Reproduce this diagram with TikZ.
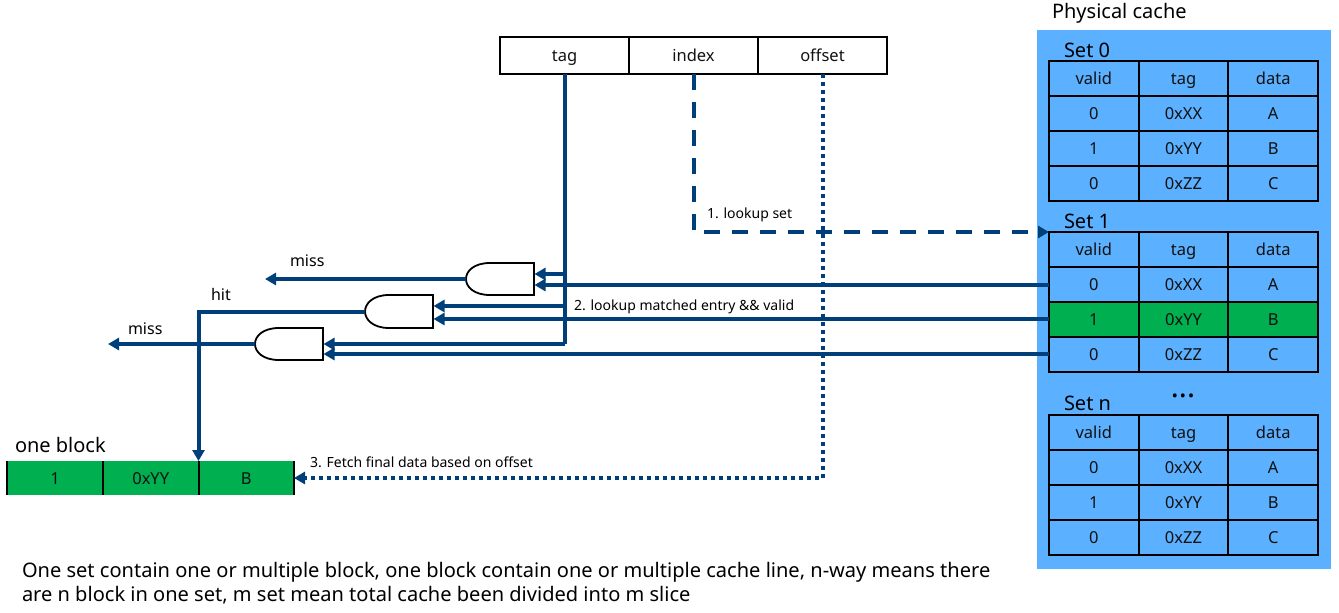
\documentclass[tikz,border=0pt]{standalone}
\usepackage{fontspec}
\setmainfont{Noto Sans}
\usetikzlibrary{arrows.meta}
\definecolor{wire}{HTML}{003F7A}
\definecolor{cachebg}{HTML}{5BB0FF}
\definecolor{hitgreen}{HTML}{00B050}
\definecolor{ink}{HTML}{111111}
\newcommand{\fs}[1]{\fontsize{#1}{#1}\selectfont}
\tikzset{
  x=1pt,y=-1pt,
  every node/.style={outer sep=0pt},
  cell/.style={draw=black,line width=1.8pt,minimum width=89.5pt,minimum height=35pt,inner sep=0pt,text=ink,font=\fs{16.5},text height=12pt,text depth=0pt,anchor=north west},
  addr/.style={draw=black,line width=1.6pt,minimum height=37pt,minimum width=129pt,inner sep=0pt,text=ink,font=\fs{16.5},text height=12pt,text depth=0pt,anchor=north west},
  blockcell/.style={fill=hitgreen,minimum height=34pt,inner sep=0pt,text=ink,font=\fs{16.5},text height=12pt,text depth=0pt,anchor=north west},
  caption/.style={text=black,font=\fs{20},inner sep=0pt,anchor=base west},
  steplabel/.style={text=black,font=\fs{14},inner sep=0pt,anchor=base west},
  wirelabel/.style={text=black,font=\fs{16},inner sep=0pt,anchor=base west},
  wireline/.style={draw=wire,line width=4pt},
  wirearrow/.style={wireline,-{Triangle[length=11pt,width=12pt]}},
  lookupdash/.style={dash pattern=on 16pt off 12pt},
  fetchdot/.style={dash pattern=on 4pt off 4pt},
  gateshape/.style={draw=black,line width=1.8pt,fill=white},
}
% \cachetable{prefix}{top y}
\newcommand{\cachetable}[2]{%
  \node[cell] (#1h1) at (1049,#2) {valid};
  \node[cell] (#1h2) at (1138.75,#2) {tag};
  \node[cell] (#1h3) at (1228.5,#2) {data};
  \node[cell] (#1a1) at (1049,#2+35) {0};
  \node[cell] (#1a2) at (1138.75,#2+35) {0xXX};
  \node[cell] (#1a3) at (1228.5,#2+35) {A};
  \node[cell] (#1b1) at (1049,#2+70) {1};
  \node[cell] (#1b2) at (1138.75,#2+70) {0xYY};
  \node[cell] (#1b3) at (1228.5,#2+70) {B};
  \node[cell] (#1c1) at (1049,#2+105) {0};
  \node[cell] (#1c2) at (1138.75,#2+105) {0xZZ};
  \node[cell] (#1c3) at (1228.5,#2+105) {C};
}
% \andgate{name}{left x}{top y}{bottom y}
\newcommand{\andgate}[4]{%
  \draw[gateshape] (#2+68,#3) -- (#2+24,#3) .. controls (#2+8,#3) and (#2,{(#3+#4)/2-8}) .. (#2,{(#3+#4)/2})
     .. controls (#2,{(#3+#4)/2+8}) and (#2+8,#4) .. (#2+24,#4) -- (#2+68,#4) -- cycle;
  \coordinate (#1out) at (#2,{(#3+#4)/2});
}
\begin{document}
\begin{tikzpicture}
\useasboundingbox (0,0) rectangle (1339,613);
% cache panel
\node[fill=cachebg,minimum width=294pt,minimum height=539pt,inner sep=0pt,anchor=north west] (panel) at (1037,30) {};
\node[caption] (phys) at (1052,18) {Physical cache};
\node[caption] (set0) at (1064,57) {Set 0};
\node[caption] (set1) at (1064,228) {Set 1};
\node[caption] (setn) at (1064,410) {Set n};
\node[text=black,font=\bfseries\fs{30},inner sep=0pt] (dots) at (1183,396) {...};
\cachetable{s0}{61}
\cachetable{s1}{232}
\node[cell,fill=hitgreen] at (1049,302) {1};
\node[cell,fill=hitgreen] at (1138.75,302) {0xYY};
\node[cell,fill=hitgreen] at (1228.5,302) {B};
\cachetable{sn}{415}
% address
\node[addr] (atag) at (500,37) {tag};
\node[addr] (aindex) at (629,37) {index};
\node[addr] (aoffset) at (758,37) {offset};
% one block
\node[caption] (blocktitle) at (15,452) {one block};
\node[blockcell,minimum width=96pt] (b1) at (7,461) {1};
\node[blockcell,minimum width=95.5pt] (b2) at (103,461) {0xYY};
\node[blockcell,minimum width=95.5pt] (b3) at (198.5,461) {B};
% gates
\andgate{ga}{466}{263}{295}
\andgate{gb}{365}{295}{328}
\andgate{gc}{255}{328}{360}
% free ends and junctions
\coordinate (misstop) at (265,0);
\coordinate (missbot) at (108,0);
\coordinate (gaA) at (534.5,274);
\coordinate (gaB) at (534.5,285);
\coordinate (gbA) at (433.5,306);
\coordinate (gbB) at (433.5,319);
\coordinate (gcA) at (323.5,344);
\coordinate (gcB) at (323.5,354);
% tag wires
\draw[wireline] (atag.south) coordinate (tagtop) -- (tagtop |- gcA) coordinate (tagdown);
\draw[wirearrow] (tagtop |- gaA) -- (gaA);
\draw[wirearrow] (tagtop |- gbA) -- (gbA);
\draw[wirearrow] (tagdown) -- (gcA);
% table wires
\draw[wirearrow] (s1a1.west |- gaB) -- (gaB);
\draw[wirearrow] (s1b1.west |- gbB) -- (gbB);
\draw[wirearrow] (s1c1.west |- gcB) -- (gcB);
% outputs
\draw[wirearrow] (gaout) -- (gaout -| misstop);
\draw[wirearrow] (gcout) -- (gcout -| missbot);
\draw[wirearrow] (gbout) -- (gbout -| b3.north west) -- (b3.north west);
% block dividers over the wire end
\draw[black,line width=2pt] (b1.north west) -- (b1.south west) (b2.north west) -- (b2.south west) (b3.north west) -- (b3.south west) (b3.north east) -- (b3.south east);
% index
\draw[wireline,lookupdash,-{Triangle[length=11pt,width=12pt]}] (aindex.south) -- (aindex.south |- s1h1.north west) -- (s1h1.north west);
% offset
\draw[wireline,fetchdot,-{Triangle[length=11pt,width=12pt]}] (aoffset.south) -- (aoffset.south |- b3.east) -- (b3.east);
% labels
\node[wirelabel] (lmiss1) at (290,266) {miss};
\node[wirelabel] (lmiss2) at (128,334) {miss};
\node[wirelabel] (lhit) at (211,300) {hit};
\node[steplabel] (l1) at (707,218) {1. lookup set};
\node[steplabel] (l2) at (574,310) {2. lookup matched entry \&\& valid};
\node[steplabel] (l3) at (310,467) {3. Fetch final data based on offset};
\node[caption,align=left,anchor=north west,font=\fs{20.05}] (note) at (22,562) {One set contain one or multiple block, one block contain one or multiple cache line, n-way means there\\[4pt]are n block in one set, m set mean total cache been divided into m slice};
\end{tikzpicture}
\end{document}
